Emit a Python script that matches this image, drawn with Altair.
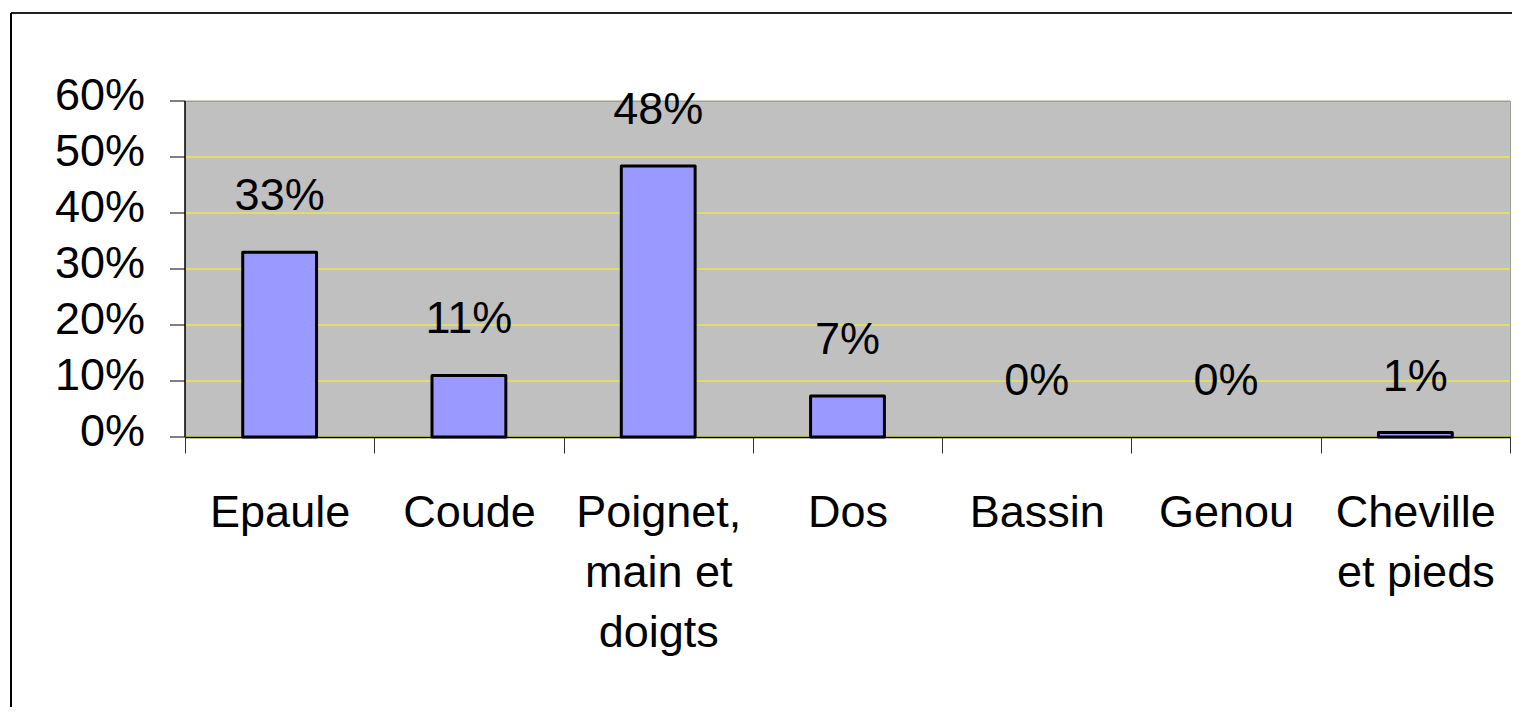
import altair as alt
import pandas as pd

categories = ["Epaule", "Coude", "Poignet, main et doigts", "Dos", "Bassin", "Genou", "Cheville et pieds"]
label_lines = {
    "Poignet, main et doigts": ["Poignet,", "main et", "doigts"],
    "Cheville et pieds": ["Cheville", "et pieds"],
}
values = [0.33, 0.11, 0.484, 0.073, 0.0, 0.0, 0.008]
y_ticks = [0, 0.1, 0.2, 0.3, 0.4, 0.5, 0.6]

df = pd.DataFrame({"cat": categories, "val": values})

FONT = "Liberation Sans"

expr = "datum.value"
for k, lines in label_lines.items():
    arr = "[" + ",".join("'" + s + "'" for s in lines) + "]"
    expr = f"datum.value == '{k}' ? {arr} : ({expr})"

x_enc = alt.X(
    "cat:N",
    sort=categories,
    scale=alt.Scale(paddingInner=0, paddingOuter=0),
    axis=alt.Axis(
        title=None,
        labelAngle=0,
        labelFontSize=45,
        labelFont=FONT,
        labelColor="black",
        labelLineHeight=60,
        labelBaseline="top",
        labelPadding=37,
        labelExpr=expr,
        tickBand="extent",
        tickSize=16,
        tickColor="#333333",
        domainColor="black",
        domainWidth=1.5,
        grid=False,
    ),
)
y_enc = alt.Y(
    "val:Q",
    scale=alt.Scale(domain=[0, 0.6], nice=False),
    axis=alt.Axis(
        title=None,
        values=y_ticks,
        format=".0%",
        labelFontSize=45,
        labelFont=FONT,
        labelColor="black",
        labelPadding=25,
        labelOffset=-5,
        tickSize=15,
        tickColor="black",
        domainColor="black",
        domainWidth=1.5,
        gridColor=alt.condition("datum.value >= 0.6", alt.value("#A0A090"), alt.value("#FFFF00")),
        gridWidth=1,
        translate=0,
    ),
)

base = alt.Chart(df)
bars = base.mark_bar(
    color="#9999FF", stroke="black", strokeWidth=3, strokeJoin="round",
    width=alt.RelativeBandSize(0.39),
).encode(
    x=x_enc,
    y=y_enc,
    strokeOpacity=alt.condition(alt.datum.val > 0, alt.value(1), alt.value(0)),
)
texts = base.mark_text(baseline="alphabetic", dy=-42, fontSize=45, font=FONT, color="black").encode(
    x=alt.X("cat:N", sort=categories),
    y="val:Q",
    text=alt.Text("val:Q", format=".0%"),
)

frame = alt.Chart(alt.Data(values=[{}]))
top_line = frame.mark_rule(color="#222222", strokeWidth=2).encode(
    x=alt.value(-174), x2=alt.value(1340), y=alt.value(-88)
)
left_line = frame.mark_rule(color="black", strokeWidth=2).encode(
    x=alt.value(-174), y=alt.value(-88), y2=alt.value(620)
)

chart = alt.layer(bars, texts, top_line, left_line).properties(
    width=1325,
    height=336,
    autosize=alt.AutoSizeParams(type="none"),
    padding={"left": 177, "top": 93, "right": 2, "bottom": 270},
    background="white",
).configure_view(
    fill="#C0C0C0", stroke="#A0A090", strokeWidth=1
)

chart.save("out.html", embed_options={"renderer": "svg", "actions": False})
